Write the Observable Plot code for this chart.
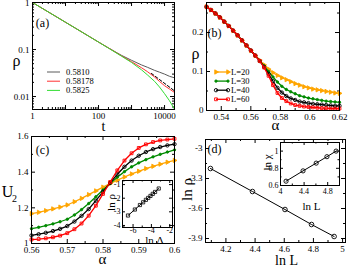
<!DOCTYPE html>
<html><head><meta charset="utf-8">
<script src="https://cdn.jsdelivr.net/npm/d3@7"></script>
<script src="https://cdn.jsdelivr.net/npm/@observablehq/plot@0.6"></script>
<style>
body{margin:0;background:#fff}
#wrap{position:relative;width:348px;height:267px;overflow:hidden;background:#fff}
#wrap svg{position:absolute;left:0;top:0}
</style></head><body><div id="wrap"></div><script>
// ---------- DATA ----------
// (a) rho(t) at three alpha values
const seriesNamesA = ["0.5810", "0.58178", "0.5825"];
const tA = [1, 2, 5, 10, 20, 50, 100, 200, 500, 1000, 2000, 3000, 5000, 7000, 10000, 14000, 20000];
const rhoA_5810  = [1, 0.747, 0.509, 0.380, 0.284, 0.193, 0.144, 0.108, 0.075, 0.059, 0.047, 0.042, 0.036, 0.033, 0.030, 0.027, 0.025];
const rhoA_58178 = [1, 0.747, 0.509, 0.380, 0.284, 0.193, 0.144, 0.108, 0.073, 0.055, 0.041, 0.034, 0.026, 0.021, 0.017, 0.0145, 0.0122];
const rhoA_5825  = [1, 0.747, 0.509, 0.380, 0.284, 0.193, 0.144, 0.107, 0.072, 0.053, 0.037, 0.029, 0.021, 0.016, 0.0115, 0.0082, 0.0054];
const fitT = [4000, 20000];
const fitRho = [0.031, 0.0132];
const ticksA_x = [1, 100, 10000];
const ticksA_y = [1, 0.1, 0.01];

// (b) rho(alpha) for four sizes
const seriesNamesB = ["L=20", "L=30", "L=40", "L=60"];
const alphaB = [0.530,0.533,0.536,0.539,0.542,0.545,0.548,0.551,0.554,0.557,0.560,0.563,0.566,0.569,0.572,0.575,0.578,0.581,0.584,0.587,0.590,0.593,0.596,0.599,0.602,0.605,0.608,0.611,0.614,0.617,0.620];
const rhoB_L20 = [0.266,0.258,0.249,0.239,0.228,0.217,0.205,0.193,0.180,0.167,0.154,0.141,0.129,0.117,0.106,0.097,0.090,0.084,0.079,0.074,0.069,0.065,0.061,0.058,0.055,0.053,0.051,0.049,0.047,0.045,0.044];
const rhoB_L30 = [0.266,0.258,0.249,0.239,0.228,0.217,0.205,0.193,0.180,0.167,0.154,0.141,0.128,0.114,0.100,0.086,0.073,0.062,0.054,0.048,0.043,0.038,0.035,0.032,0.030,0.028,0.026,0.024,0.023,0.022,0.021];
const rhoB_L40 = [0.266,0.258,0.249,0.239,0.228,0.217,0.205,0.193,0.180,0.167,0.154,0.141,0.127,0.112,0.094,0.075,0.058,0.046,0.037,0.031,0.027,0.023,0.021,0.019,0.017,0.016,0.015,0.014,0.013,0.012,0.012];
const rhoB_L60 = [0.266,0.258,0.249,0.239,0.228,0.217,0.205,0.193,0.180,0.167,0.154,0.141,0.127,0.110,0.089,0.065,0.045,0.032,0.024,0.018,0.014,0.012,0.010,0.009,0.008,0.007,0.006,0.006,0.005,0.005,0.005];
const ticksB_x = [0.54, 0.56, 0.58, 0.6, 0.62];
const ticksB_y = [0, 0.1, 0.2];

// (c) Binder cumulant U2(alpha)
const alphaC = [0.560,0.562,0.564,0.566,0.568,0.570,0.572,0.574,0.576,0.578,0.580,0.582,0.584,0.586,0.588,0.590,0.592,0.594,0.596,0.598,0.600];
const U_L20 = [1.167,1.175,1.184,1.194,1.204,1.216,1.234,1.253,1.274,1.295,1.316,1.336,1.355,1.373,1.390,1.405,1.420,1.433,1.445,1.456,1.466];
const U_L30 = [1.083,1.091,1.100,1.110,1.122,1.136,1.160,1.190,1.224,1.262,1.300,1.337,1.372,1.403,1.430,1.452,1.470,1.486,1.500,1.513,1.525];
const U_L40 = [1.045,1.052,1.060,1.070,1.082,1.098,1.123,1.155,1.193,1.240,1.290,1.340,1.388,1.430,1.465,1.492,1.513,1.529,1.541,1.550,1.557];
const U_L60 = [1.022,1.025,1.029,1.035,1.044,1.058,1.080,1.112,1.156,1.212,1.278,1.345,1.410,1.465,1.506,1.536,1.556,1.569,1.578,1.583,1.587];
const ticksC_x = [0.56, 0.57, 0.58, 0.59, 0.6];
const ticksC_y = [1, 1.2, 1.4, 1.6];
// (c) inset: ln rho vs ln Delta
const lnDelta = [-6.55, -5.8, -5.25, -4.9, -4.6, -4.35, -4.1, -3.85, -3.6, -3.2];
const lnRhoC  = [-3.27, -2.83, -2.50, -2.30, -2.12, -1.98, -1.83, -1.68, -1.54, -1.29];
const ticksCi_x = [-6, -4, -2];
const ticksCi_y = [-1, -2, -3, -4];

// (d) ln rho vs ln L, inset ln chi vs ln L
const lnL = [4.094, 4.382, 4.605, 4.787, 4.942];
const lnRhoD = [-3.20, -3.43, -3.61, -3.76, -3.88];
const lnChi = [0.65, 0.77, 0.86, 0.935, 1.0];
const ticksD_x = [4.2, 4.4, 4.6, 4.8, 5];
const ticksD_y = [-3, -3.3, -3.6, -3.9];
const ticksDi_x = [4, 4.4, 4.8];
const ticksDi_y = [0.6, 0.8, 1];

// ---------- HELPERS ----------
const W = 348, H = 267;
const FONT = "'Liberation Serif', 'Times New Roman', serif";
const wrap = document.getElementById("wrap");
const GRAY = "#5a5a5a", RED_A = "#ff3030", GREEN_A = "#33dd33";
const YEL = "#ffa500", GRN = "#008a00", BLK = "#000000", RED = "#ff0000";
const rows = (xs, ys) => xs.map((x, i) => ({x, y: ys[i]}));
const mount = (svg) => { svg.style.position = "absolute"; svg.style.left = "0px"; svg.style.top = "0px"; wrap.appendChild(svg); return svg; };
const frameOpts = (b) => ({width: W, height: H, marginLeft: b[0], marginTop: b[1], marginRight: W - b[2], marginBottom: H - b[3]});
const st = (fs) => ({background: "transparent", fontFamily: FONT, fontSize: fs + "px", color: "black", overflow: "visible"});
function xTicks(vals, len, b) {
  const fh = b[3] - b[1];
  return [Plot.ruleX(vals, {x: d => d, insetTop: fh - len, stroke: "black"}),
          Plot.ruleX(vals, {x: d => d, insetBottom: fh - len, stroke: "black"})];
}
function yTicks(vals, len, b) {
  const fw = b[2] - b[0];
  return [Plot.ruleY(vals, {y: d => d, insetRight: fw - len, stroke: "black"}),
          Plot.ruleY(vals, {y: d => d, insetLeft: fw - len, stroke: "black"})];
}
function logMinor(decades, lo, hi) {
  const out = [];
  for (const d of decades) for (let k = 2; k <= 9; k++) { const v = +(d * k).toPrecision(6); if (v >= lo && v <= hi) out.push(v); }
  return out;
}
const axX = (ticks, pad, fs) => Plot.axisX({ticks, tickSize: 0, tickPadding: pad, tickFormat: d => String(d), label: null, fontSize: fs});
const axY = (ticks, pad, fs, dy = 0) => Plot.axisY({ticks, tickSize: 0, tickPadding: pad, tickFormat: d => String(d), label: null, fontSize: fs, dy});
const markerStyles = [
  {symbol: "triangle", rotate: 90, r: 1.6, fill: YEL, stroke: YEL, color: YEL},
  {symbol: "circle", r: 1.2, fill: GRN, stroke: GRN, color: GRN},
  {symbol: "circle", r: 1.7, fill: "none", stroke: BLK, color: BLK},
  {symbol: "square", r: 1.6, fill: "none", stroke: RED, color: RED}
];
function curveMarks(xs, yss) {
  const out = [];
  yss.forEach((ys, i) => {
    const m = markerStyles[i];
    const data = rows(xs, ys);
    out.push(Plot.line(data, {x: "x", y: "y", stroke: m.color, strokeWidth: 1.3}));
    out.push(Plot.dot(data, {x: "x", y: "y", symbol: m.symbol, r: m.r, fill: m.fill, stroke: m.stroke, strokeWidth: 0.9, rotate: m.rotate || 0}));
  });
  return out;
}

// ---------- PANEL (a) ----------
const bA = [32, 2, 174, 109];
const decA = [1, 10, 100, 1000, 10000];
mount(Plot.plot({
  ...frameOpts(bA), style: st(9),
  x: {type: "log", domain: [1, 20000], axis: null},
  y: {type: "log", domain: [0.0053, 1], axis: null},
  marks: [
    ...xTicks(decA, 4, bA), ...xTicks(logMinor(decA, 1, 20000), 2, bA),
    ...yTicks([0.01, 0.1, 1], 4, bA), ...yTicks(logMinor([0.001, 0.01, 0.1], 0.0053, 1), 2, bA),
    axX(ticksA_x, 3, 9), axY(ticksA_y, 3, 9, 1),
    Plot.line(rows(tA, rhoA_5810), {x: "x", y: "y", stroke: GRAY, strokeWidth: 1}),
    Plot.line(rows(tA, rhoA_58178), {x: "x", y: "y", stroke: RED_A, strokeWidth: 1}),
    Plot.line(rows(tA, rhoA_5825), {x: "x", y: "y", stroke: GREEN_A, strokeWidth: 1}),
    Plot.line(rows(fitT, fitRho), {x: "x", y: "y", stroke: "black", strokeWidth: 1, strokeDasharray: "3,2"}),
    Plot.frame({stroke: "black"})
  ]
}));

// ---------- PANEL (b) ----------
const bB = [206, 2, 339, 110];
mount(Plot.plot({
  ...frameOpts(bB), style: st(9),
  x: {domain: [0.53, 0.62], axis: null},
  y: {domain: [0, 0.277], axis: null},
  marks: [
    ...xTicks([0.54, 0.56, 0.58, 0.6, 0.62], 4, bB), ...xTicks([0.53, 0.55, 0.57, 0.59, 0.61], 2, bB),
    ...yTicks([0, 0.1, 0.2], 4, bB), ...yTicks([0.05, 0.15, 0.25], 2, bB),
    axX(ticksB_x, 3, 9), axY(ticksB_y, 3, 9),
    ...curveMarks(alphaB, [rhoB_L20, rhoB_L30, rhoB_L40, rhoB_L60]),
    Plot.frame({stroke: "black"})
  ]
}));

// ---------- PANEL (c) ----------
const bC = [31, 136, 174, 243];
mount(Plot.plot({
  ...frameOpts(bC), style: st(9),
  x: {domain: [0.56, 0.60], axis: null},
  y: {domain: [1, 1.6], axis: null},
  marks: [
    ...xTicks([0.56, 0.57, 0.58, 0.59, 0.6], 4, bC), ...xTicks([0.565, 0.575, 0.585, 0.595], 2, bC),
    ...yTicks([1, 1.2, 1.4, 1.6], 4, bC), ...yTicks([1.1, 1.3, 1.5], 2, bC),
    axX(ticksC_x, 3, 9), axY(ticksC_y, 3, 9),
    ...curveMarks(alphaC, [U_L20, U_L30, U_L40, U_L60]),
    Plot.frame({stroke: "black"})
  ]
}));
// inset (c)
const bCi = [122, 180, 172, 227];
mount(Plot.plot({
  ...frameOpts(bCi), style: st(8),
  x: {domain: [-7.15, -1.7], axis: null},
  y: {domain: [-4.15, -0.7], axis: null},
  marks: [
    Plot.frame({fill: "white", stroke: "none"}),
    ...xTicks([-6, -4, -2], 3, bCi), ...xTicks([-7, -5, -3], 1.5, bCi),
    ...yTicks([-1, -2, -3, -4], 3, bCi),
    axX(ticksCi_x, 0, 8), axY(ticksCi_y, 2, 8),
    Plot.line(rows(lnDelta, lnRhoC), {x: "x", y: "y", stroke: "black", strokeWidth: 1}),
    Plot.dot(rows(lnDelta, lnRhoC), {x: "x", y: "y", symbol: "square", r: 1.8, fill: "none", stroke: "black", strokeWidth: 0.8}),
    Plot.frame({stroke: "black"})
  ]
}));

// ---------- PANEL (d) ----------
const bD = [205, 139, 345, 242];
mount(Plot.plot({
  ...frameOpts(bD), style: st(9),
  x: {domain: [4.06, 5.02], axis: null},
  y: {domain: [-3.94, -2.91], axis: null},
  marks: [
    ...xTicks([4.2, 4.4, 4.6, 4.8, 5], 4, bD), ...xTicks([4.1, 4.3, 4.5, 4.7, 4.9], 2, bD),
    ...yTicks([-3, -3.3, -3.6, -3.9], 4, bD), ...yTicks([-3.15, -3.45, -3.75], 2, bD),
    axX(ticksD_x, 3, 9), axY(ticksD_y, 3, 9),
    Plot.line(rows(lnL, lnRhoD), {x: "x", y: "y", stroke: "black", strokeWidth: 1}),
    Plot.dot(rows(lnL, lnRhoD), {x: "x", y: "y", r: 2.3, fill: "none", stroke: "black", strokeWidth: 0.9}),
    Plot.frame({stroke: "black"})
  ]
}));
// inset (d)
const bDi = [280, 142, 339, 185];
mount(Plot.plot({
  ...frameOpts(bDi), style: st(8),
  x: {domain: [4, 5], axis: null},
  y: {domain: [0.6, 1.1], axis: null},
  marks: [
    Plot.frame({fill: "white", stroke: "none"}),
    ...xTicks([4, 4.4, 4.8], 3, bDi), ...xTicks([4.2, 4.6, 5], 1.5, bDi),
    ...yTicks([0.6, 0.8, 1], 3, bDi), ...yTicks([0.7, 0.9], 1.5, bDi),
    axX(ticksDi_x, 3, 8), axY(ticksDi_y, 2, 8),
    Plot.line(rows(lnL, lnChi), {x: "x", y: "y", stroke: "black", strokeWidth: 1}),
    Plot.dot(rows(lnL, lnChi), {x: "x", y: "y", r: 2.1, fill: "none", stroke: "black", strokeWidth: 0.9}),
    Plot.frame({stroke: "black"})
  ]
}));

// ---------- TEXT OVERLAY ----------
const labels = [
  {t: "(a)", x: 42, y: 23, s: 12}, {t: "(b)", x: 214, y: 33, s: 12},
  {t: "(c)", x: 42, y: 150, s: 12}, {t: "(d)", x: 214, y: 149, s: 12},
  {t: "ρ", x: 16, y: 60, s: 16}, {t: "t", x: 103, y: 126, s: 14},
  {t: "ρ", x: 195, y: 53, s: 16}, {t: "α", x: 275, y: 125, s: 15},
  {t: "U", x: 7, y: 191, s: 16}, {t: "2", x: 14, y: 198, s: 10},
  {t: "α", x: 102, y: 259, s: 15},
  {t: "ln ρ", x: 187, y: 189, s: 15, r: -90}, {t: "ln L", x: 286, y: 260, s: 14},
  {t: "ln ρ", x: 111, y: 202, s: 11, r: -90}, {t: "ln Δ", x: 154, y: 240, s: 11},
  {t: "ln χ", x: 267, y: 162, s: 11, r: -90}, {t: "ln L", x: 311, y: 206, s: 11}
];
const overlay = mount(Plot.plot({
  width: W, height: H, margin: 0, style: st(10),
  marks: labels.map(d => Plot.text([d.t], {text: v => v, frameAnchor: "top-left", dx: d.x, dy: d.y, fontSize: d.s, rotate: d.r || 0, textAnchor: "middle", lineAnchor: "middle", fill: "black", fontFamily: FONT}))
}));

// legends
const g = d3.select(overlay).append("g").attr("font-family", FONT).attr("font-size", 8.5).attr("text-anchor", "start");
const legA = [GRAY, RED_A, GREEN_A];
seriesNamesA.forEach((name, i) => {
  const y = 72 + i * 9.2;
  g.append("line").attr("x1", 47).attr("x2", 60).attr("y1", y).attr("y2", y).attr("stroke", legA[i]).attr("stroke-width", 1);
  g.append("text").attr("x", 66).attr("y", y).attr("dy", "0.32em").attr("text-anchor", "start").text(name);
});
const symMap = {triangle: d3.symbolTriangle, circle: d3.symbolCircle, square: d3.symbolSquare};
seriesNamesB.forEach((name, i) => {
  const y = 72 + i * 9.1, m = markerStyles[i];
  g.append("line").attr("x1", 216).attr("x2", 228).attr("y1", y).attr("y2", y).attr("stroke", m.color).attr("stroke-width", 1.3);
  for (const x of [216, 228]) {
    g.append("path").attr("d", d3.symbol(symMap[m.symbol], m.r * m.r * Math.PI)())
      .attr("transform", `translate(${x},${y}) rotate(${m.rotate || 0})`)
      .attr("fill", m.fill).attr("stroke", m.stroke).attr("stroke-width", 0.9);
  }
  g.append("text").attr("x", 231).attr("y", y).attr("dy", "0.32em").attr("text-anchor", "start").text(name);
});
</script></body></html>
